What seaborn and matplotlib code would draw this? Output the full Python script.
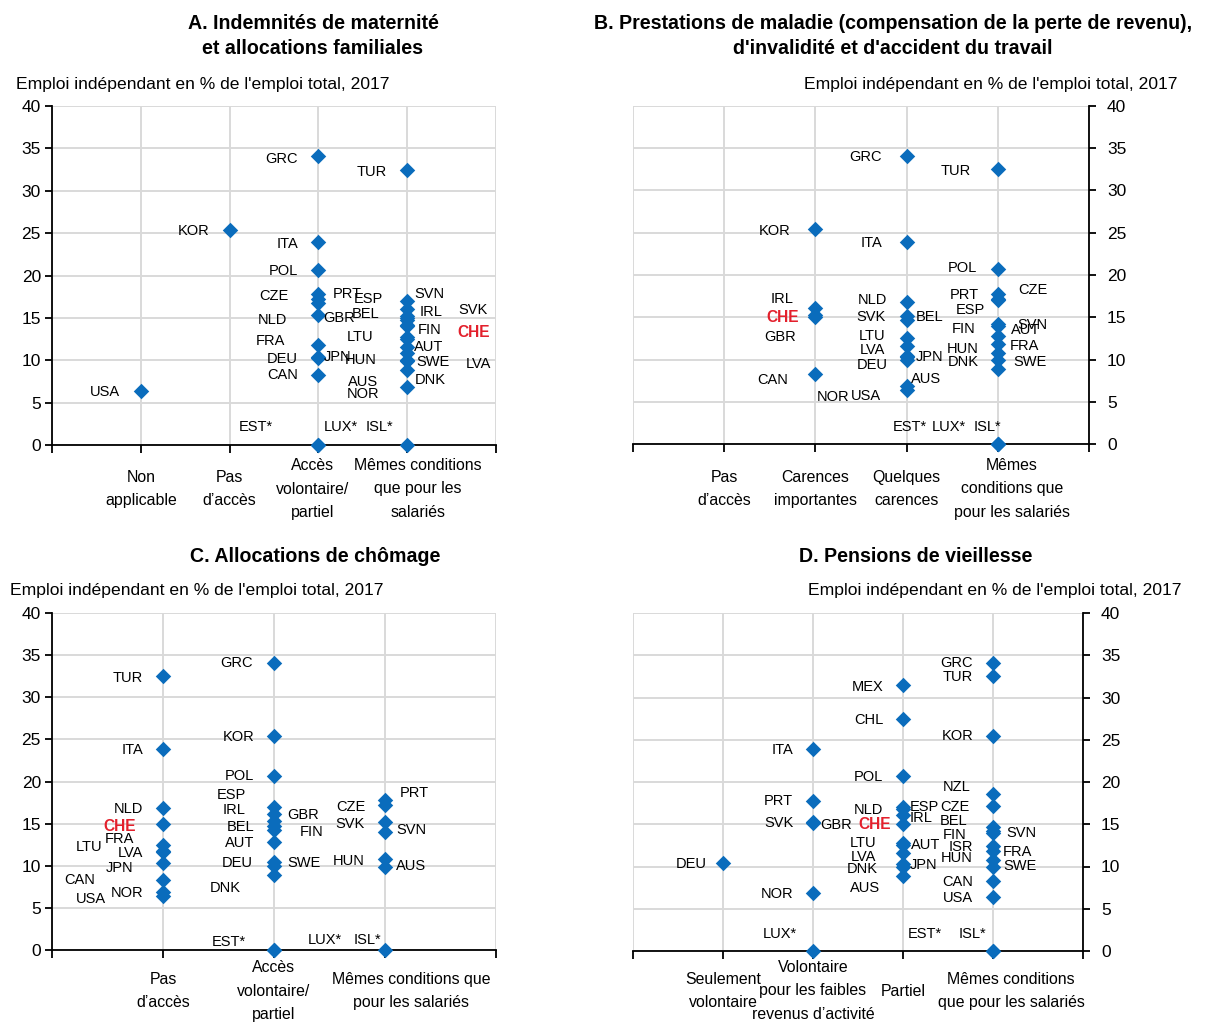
import matplotlib
matplotlib.use("Agg")
import matplotlib.pyplot as plt
import matplotlib.font_manager as fm
import matplotlib.transforms as mtransforms
import pandas as pd
import seaborn as sns

# ---------------------------------------------------------------------------
# Data: self-employment as % of total employment, 2017
# ---------------------------------------------------------------------------
countries = ["GRC", "TUR", "MEX", "CHL", "KOR", "ITA", "POL", "NZL", "PRT", "CZE",
             "ESP", "NLD", "IRL", "GBR", "SVK", "CHE", "BEL", "FIN", "SVN", "AUT",
             "LTU", "ISR", "FRA", "LVA", "HUN", "DEU", "JPN", "SWE", "AUS", "DNK",
             "CAN", "NOR", "USA", "EST", "LUX", "ISL"]
selfemp = [34.1, 32.5, 31.5, 27.4, 25.4, 23.9, 20.7, 18.6, 17.8, 17.2,
           17.0, 16.8, 16.1, 15.3, 15.2, 15.0, 14.7, 14.2, 14.0, 12.8,
           12.5, 12.4, 11.8, 11.6, 10.8, 10.4, 10.3, 10.0, 9.9, 8.9,
           8.3, 6.9, 6.4, 0.0, 0.0, 0.0]
starred = ["EST", "LUX", "ISL"]
highlight = "CHE"

# Panel A: maternity and family benefits
cats_a = ["Non\napplicable", "Pas\nd’accès", "Accès\nvolontaire/\npartiel",
          "Mêmes conditions\nque pour les\nsalariés"]
groups_a = [
    ["USA"],
    ["KOR"],
    ["GRC", "ITA", "POL", "CZE", "PRT", "NLD", "GBR", "FRA", "DEU", "JPN", "CAN", "EST", "LUX"],
    ["TUR", "ESP", "BEL", "LTU", "HUN", "AUS", "NOR", "SVN", "IRL", "FIN", "AUT", "SWE",
     "DNK", "SVK", "CHE", "LVA", "ISL"],
]

# Panel B: sickness, invalidity and work-injury benefits
cats_b = ["Pas\nd’accès", "Carences\nimportantes", "Quelques\ncarences",
          "Mêmes\nconditions que\npour les salariés"]
groups_b = [
    [],
    ["KOR", "IRL", "CHE", "GBR", "CAN"],
    ["GRC", "ITA", "NLD", "SVK", "BEL", "LTU", "LVA", "DEU", "JPN", "AUS", "NOR", "USA"],
    ["TUR", "POL", "PRT", "CZE", "ESP", "FIN", "SVN", "AUT", "FRA", "HUN", "DNK", "SWE",
     "EST", "LUX", "ISL"],
]

# Panel C: unemployment benefits
cats_c = ["Pas\nd’accès", "Accès\nvolontaire/\npartiel", "Mêmes conditions que\npour les salariés"]
groups_c = [
    ["TUR", "ITA", "NLD", "CHE", "FRA", "LTU", "LVA", "JPN", "CAN", "USA", "NOR"],
    ["GRC", "KOR", "POL", "ESP", "IRL", "BEL", "AUT", "DEU", "DNK", "GBR", "FIN", "SWE",
     "EST", "LUX"],
    ["PRT", "CZE", "SVK", "SVN", "HUN", "AUS", "ISL"],
]

# Panel D: old-age pensions
cats_d = ["Seulement\nvolontaire", "Volontaire\npour les faibles\nrevenus d’activité", "Partiel",
          "Mêmes conditions\nque pour les salariés"]
groups_d = [
    ["DEU"],
    ["ITA", "PRT", "SVK", "GBR", "NOR", "LUX"],
    ["MEX", "CHL", "POL", "NLD", "ESP", "IRL", "CHE", "LTU", "AUT", "LVA", "JPN", "DNK", "AUS"],
    ["GRC", "TUR", "KOR", "NZL", "CZE", "BEL", "FIN", "ISR", "HUN", "CAN", "USA", "SVN",
     "FRA", "SWE", "EST", "ISL"],
]

# ---------------------------------------------------------------------------
# Label placement (x in category units, y in % units, horizontal alignment)
# ---------------------------------------------------------------------------
R, L = "right", "left"
labels_a = {
    "USA": (0.77, 6.2, R), "KOR": (1.77, 25.3, R), "GRC": (2.77, 33.8, R),
    "TUR": (3.77, 32.2, R), "ITA": (2.77, 23.7, R), "POL": (2.77, 20.5, R),
    "CZE": (2.66, 17.6, R), "NLD": (2.65, 14.8, R), "FRA": (2.63, 12.3, R),
    "DEU": (2.77, 10.2, R), "CAN": (2.77, 8.3, R), "PRT": (3.16, 17.8, L),
    "ESP": (3.40, 17.25, L), "GBR": (3.05, 15.0, L), "BEL": (3.375, 15.4, L),
    "LTU": (3.32, 12.8, L), "JPN": (3.06, 10.4, L), "HUN": (3.30, 10.0, L),
    "AUS": (3.33, 7.4, L), "NOR": (3.32, 6.0, L), "SVN": (4.08, 17.8, L),
    "IRL": (4.14, 15.7, L), "FIN": (4.12, 13.6, L), "AUT": (4.08, 11.6, L),
    "SWE": (4.10, 9.8, L), "DNK": (4.09, 7.7, L), "SVK": (4.575, 15.9, L),
    "CHE": (4.56, 13.3, L), "LVA": (4.66, 9.5, L), "EST": (2.10, 2.1, L),
    "LUX": (3.055, 2.1, L), "ISL": (3.53, 2.1, L),
}
labels_b = {
    "GRC": (2.73, 34.0, R), "TUR": (3.71, 32.3, R), "KOR": (1.73, 25.25, R),
    "ITA": (2.73, 23.8, R), "POL": (3.775, 20.8, R), "CZE": (4.22, 18.2, L),
    "PRT": (3.79, 17.6, R), "ESP": (3.86, 15.8, R), "FIN": (3.76, 13.6, R),
    "SVN": (4.21, 14.1, L), "AUT": (4.14, 13.5, L), "FRA": (4.13, 11.65, L),
    "SWE": (4.165, 9.75, L), "HUN": (3.79, 11.2, R), "DNK": (3.79, 9.65, R),
    "IRL": (1.76, 17.2, R), "CHE": (1.82, 15.0, R), "GBR": (1.79, 12.7, R),
    "CAN": (1.70, 7.6, R), "NLD": (2.79, 17.0, R), "SVK": (2.77, 15.0, R),
    "BEL": (3.10, 15.0, L), "LTU": (2.77, 12.8, R), "LVA": (2.77, 11.1, R),
    "DEU": (2.79, 9.4, R), "JPN": (3.10, 10.3, L), "AUS": (3.045, 7.7, L),
    "NOR": (2.01, 5.55, L), "USA": (2.72, 5.7, R), "EST": (2.85, 2.0, L),
    "LUX": (3.28, 2.0, L), "ISL": (3.73, 2.0, L),
}
labels_c = {
    "TUR": (0.82, 32.3, R), "ITA": (0.82, 23.75, R), "NLD": (0.82, 16.7, R),
    "CHE": (0.76, 14.6, R), "FRA": (0.74, 13.2, R), "LTU": (0.45, 12.2, R),
    "LVA": (0.82, 11.5, R), "JPN": (0.73, 9.7, R), "CAN": (0.39, 8.3, R),
    "USA": (0.49, 6.0, R), "NOR": (0.82, 6.8, R), "GRC": (1.81, 34.05, R),
    "KOR": (1.82, 25.3, R), "POL": (1.82, 20.7, R), "ESP": (1.75, 18.4, R),
    "IRL": (1.74, 16.6, R), "BEL": (1.82, 14.6, R), "AUT": (1.82, 12.7, R),
    "DEU": (1.81, 10.3, R), "DNK": (1.70, 7.4, R), "GBR": (2.12, 16.0, L),
    "FIN": (2.23, 14.0, L), "SWE": (2.12, 10.3, L), "CZE": (2.82, 17.0, R),
    "SVK": (2.82, 15.0, R), "HUN": (2.82, 10.6, R), "PRT": (3.13, 18.6, L),
    "SVN": (3.10, 14.2, L), "AUS": (3.10, 10.0, L), "EST": (1.75, 1.0, R),
    "LUX": (2.30, 1.2, L), "ISL": (2.72, 1.2, L),
}
labels_d = {
    "DEU": (0.82, 10.3, R), "ITA": (1.78, 23.8, R), "PRT": (1.78, 17.7, R),
    "SVK": (1.78, 15.1, R), "GBR": (2.085, 14.9, L), "NOR": (1.78, 6.8, R),
    "LUX": (1.82, 2.0, R), "MEX": (2.78, 31.3, R), "CHL": (2.78, 27.3, R),
    "POL": (2.78, 20.6, R), "NLD": (2.78, 16.7, R), "CHE": (2.87, 15.0, R),
    "LTU": (2.70, 12.8, R), "LVA": (2.70, 11.1, R), "DNK": (2.715, 9.65, R),
    "AUS": (2.74, 7.5, R), "ESP": (3.08, 17.0, L), "IRL": (3.07, 15.7, L),
    "AUT": (3.085, 12.5, L), "JPN": (3.07, 10.15, L), "EST": (3.05, 2.0, L),
    "GRC": (3.78, 34.1, R), "TUR": (3.78, 32.4, R), "KOR": (3.78, 25.4, R),
    "NZL": (3.745, 19.4, R), "CZE": (3.74, 17.0, R), "BEL": (3.72, 15.4, R),
    "FIN": (3.70, 13.7, R), "ISR": (3.78, 12.3, R), "HUN": (3.77, 11.0, R),
    "CAN": (3.78, 8.2, R), "USA": (3.78, 6.3, R), "SVN": (4.15, 14.0, L),
    "FRA": (4.11, 11.7, L), "SWE": (4.11, 10.0, L), "ISL": (3.62, 2.0, L),
}

# Horizontal nudges (pixels) for category labels, one per category
nudge_a = [0, 0, -6, 11]
nudge_b = [0, 0, 0, 14]
nudge_c = [0, 0, 26]
nudge_d = [0, 0, 0, 18]

# ---------------------------------------------------------------------------
# Styling
# ---------------------------------------------------------------------------
sns.set_theme(style="white")
installed = {f.name for f in fm.fontManager.ttflist}
family = [f for f in ["Liberation Sans Narrow", "Liberation Sans", "DejaVu Sans"] if f in installed]
plt.rcParams["font.family"] = family
plt.rcParams["axes.unicode_minus"] = False
for key in ["text.color", "axes.labelcolor", "xtick.color", "ytick.color"]:
    plt.rcParams[key] = "black"

BLUE = "#0a6cbc"
RED = "#e3202c"
GRID = "#d9d9d9"
LABEL_SIZE = 10.5
value_of = dict(zip(countries, selfemp))

W, H = 1212, 1026
DPI = 100
fig = plt.figure(figsize=(W / DPI, H / DPI), dpi=DPI)


def frac_box(left, top, right, bottom):
    return [left / W, 1 - bottom / H, (right - left) / W, (bottom - top) / H]


def draw_panel(box, cats, groups, labels, yside, cat_drop, nudges):
    ax = fig.add_axes(box)
    rows = []
    for i, grp in enumerate(groups, start=1):
        for code in grp:
            rows.append({"code": code, "pos": i, "value": value_of[code]})
    df = pd.DataFrame(rows)
    n = len(cats)
    sns.scatterplot(data=df, x="pos", y="value", ax=ax, marker="D", s=62,
                    color=BLUE, linewidth=0, legend=False, zorder=4)
    for coll in ax.collections:
        coll.set_clip_on(False)

    ax.set_xlim(0, n + 1)
    ax.set_ylim(0, 40)
    ax.set_xticks(range(0, n + 2))
    ax.set_xticklabels([])
    ax.set_yticks(range(0, 41, 5))
    ax.set_xlabel("")
    ax.set_ylabel("")
    ax.grid(True, color=GRID, linewidth=1.4, zorder=0)
    ax.set_axisbelow(True)

    # category names under the axis, centred on each column
    base = mtransforms.blended_transform_factory(ax.transData, ax.transAxes)
    for i, (cat, dx) in enumerate(zip(cats, nudges), start=1):
        shift = mtransforms.ScaledTranslation(dx / DPI, -cat_drop / DPI, fig.dpi_scale_trans)
        ax.text(i, 0, cat, transform=base + shift, ha="center", va="center",
                fontsize=11.4, linespacing=1.72, clip_on=False)

    for s in ax.spines.values():
        s.set_visible(False)
    ax.spines["bottom"].set_visible(True)
    ax.spines["bottom"].set_color("black")
    ax.spines["bottom"].set_linewidth(1.3)
    ax.spines[yside].set_visible(True)
    ax.spines[yside].set_color("black")
    ax.spines[yside].set_linewidth(1.3)

    ax.tick_params(axis="x", direction="out", length=6, width=1.3, color="black",
                   bottom=True)
    if yside == "left":
        ax.tick_params(axis="y", direction="out", length=5, width=1.3, color="black",
                       labelsize=12.5, left=True, right=False, labelleft=True,
                       labelright=False, pad=3)
    else:
        ax.yaxis.tick_right()
        ax.tick_params(axis="y", direction="out", length=5, width=1.3, color="black",
                       labelsize=12.5, left=False, right=True, labelleft=False,
                       labelright=True, pad=8)

    for code, (x, y, ha) in labels.items():
        txt = code + ("*" if code in starred else "")
        if code == highlight:
            ax.text(x, y, txt, ha=ha, va="center", fontsize=11.2, color=RED,
                    fontweight="bold", zorder=5)
        else:
            ax.text(x, y, txt, ha=ha, va="center", fontsize=LABEL_SIZE, color="black",
                    zorder=5)
    return ax


draw_panel(frac_box(52, 106, 496, 445), cats_a, groups_a, labels_a, "left", 44, nudge_a)
draw_panel(frac_box(633, 106, 1089, 444), cats_b, groups_b, labels_b, "right", 45, nudge_b)
draw_panel(frac_box(52, 613, 496, 950), cats_c, groups_c, labels_c, "left", 41, nudge_c)
draw_panel(frac_box(633, 613, 1083, 951), cats_d, groups_d, labels_d, "right", 40, nudge_d)

# Panel titles
title_kw = dict(fontsize=14.1, fontweight="bold", ha="center", va="center", linespacing=1.35)
fig.text(313 / W, 1 - 36 / H, "A. Indemnités de maternité\net allocations familiales", **title_kw)
fig.text(893 / W, 1 - 36 / H,
         "B. Prestations de maladie (compensation de la perte de revenu),\n"
         "d'invalidité et d'accident du travail", **title_kw)
fig.text(315 / W, 1 - 556 / H, "C. Allocations de chômage", **title_kw)
fig.text(916 / W, 1 - 556 / H, "D. Pensions de vieillesse", **title_kw)

# Axis captions
cap = "Emploi indépendant en % de l'emploi total, 2017"
cap_size = 12.6
fig.text(16 / W, 1 - 84 / H, cap, ha="left", va="center", fontsize=cap_size)
fig.text(1178 / W, 1 - 84 / H, cap, ha="right", va="center", fontsize=cap_size)
fig.text(10 / W, 1 - 591 / H, cap, ha="left", va="center", fontsize=cap_size)
fig.text(1182 / W, 1 - 591 / H, cap, ha="right", va="center", fontsize=cap_size)

fig.savefig("out.png", dpi=DPI, facecolor="white")
